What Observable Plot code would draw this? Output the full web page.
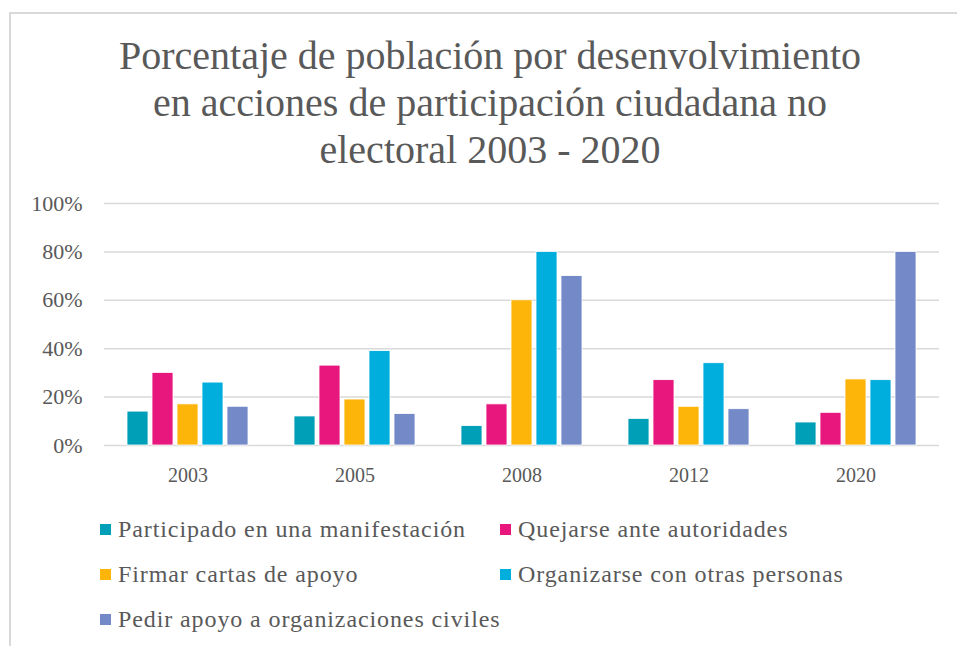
<!DOCTYPE html>
<html>
<head>
<meta charset="utf-8">
<script src="https://cdn.jsdelivr.net/npm/d3@7"></script>
<script src="https://cdn.jsdelivr.net/npm/@observablehq/plot@0.6"></script>
<style>
  body { margin: 0; background: #fff; }
  #wrap { position: relative; width: 957px; height: 646px; overflow: hidden; font-family: "Liberation Serif", "DejaVu Serif", serif; color: #595959; }
  #frame { position: absolute; left: 9px; top: 12px; width: 960px; height: 650px; border-top: 2px solid #d9d9d9; border-left: 2px solid #d9d9d9; }
  #title { position: absolute; left: 0; top: 32px; width: 980px; text-align: center; font-size: 40px; line-height: 47px; }
  #chart { position: absolute; left: 0; top: 180px; }
  .leg { position: absolute; font-size: 24px; letter-spacing: 0.9px; line-height: 28px; white-space: nowrap; }
  .leg .sw { position: absolute; left: -18px; top: 9px; width: 11px; height: 11px; }
</style>
</head>
<body>
<div id="wrap">
  <div id="frame"></div>
  <div id="title">Porcentaje de población por desenvolvimiento<br>en acciones de participación ciudadana no<br>electoral 2003 - 2020</div>
  <div id="chart"></div>
  <div id="legend"></div>
</div>
<script>
const years = ["2003", "2005", "2008", "2012", "2020"];
const series = [
  "Participado en una manifestación",
  "Quejarse ante autoridades",
  "Firmar cartas de apoyo",
  "Organizarse con otras personas",
  "Pedir apoyo a organizaciones civiles"
];
const colors = ["#009fb8", "#e8177d", "#fdb50a", "#00aedd", "#7489c8"];
const manifestacion = [14, 12, 8, 11, 9.5];
const quejarse = [30, 33, 17, 27, 13.5];
const firmar = [17, 19, 60, 16, 27.3];
const organizarse = [26, 39, 80, 34, 27];
const pedir = [16, 13, 70, 15, 80];
const yTicks = [0, 20, 40, 60, 80, 100];

const seriesValues = [manifestacion, quejarse, firmar, organizarse, pedir];
const data = [];
years.forEach((yr, i) => {
  series.forEach((s, j) => data.push({year: yr, series: s, value: seriesValues[j][i]}));
});

const chart = Plot.plot({
  width: 957,
  height: 320,
  marginLeft: 102,
  marginRight: 16,
  marginTop: 23,
  marginBottom: 55,
  style: {color: "#595959", fontFamily: "Liberation Serif, DejaVu Serif, serif", background: "transparent"},
  fx: {domain: years, padding: 0, label: null, axis: null},
  x: {domain: series, paddingInner: 0.18, paddingOuter: 0.867, axis: null},
  y: {domain: [0, 100], axis: null},
  color: {domain: series, range: colors},
  marks: [
    Plot.ruleY(yTicks, {stroke: "#d9d9d9", strokeWidth: 1.5}),
    Plot.barY(data, {fx: "year", x: "series", y: "value", fill: "series", stroke: "white", strokeWidth: 0.8}),
    Plot.axisY(yTicks, {anchor: "left", tickSize: 0, tickPadding: 22, fontSize: 22, tickFormat: d => d + "%", label: null}),
    Plot.axisFx({anchor: "bottom", tickSize: 0, tickPadding: 22, fontSize: 20, label: null})
  ]
});
document.getElementById("chart").appendChild(chart);

const legend = document.getElementById("legend");
const legPos = [[118, 515], [518, 515], [118, 560], [518, 560], [118, 605]];
series.forEach((s, i) => {
  const d = document.createElement("div");
  d.className = "leg";
  d.style.left = legPos[i][0] + "px";
  d.style.top = legPos[i][1] + "px";
  const sw = document.createElement("span");
  sw.className = "sw";
  sw.style.background = colors[i];
  d.appendChild(sw);
  d.appendChild(document.createTextNode(s));
  legend.appendChild(d);
});
</script>
</body>
</html>
